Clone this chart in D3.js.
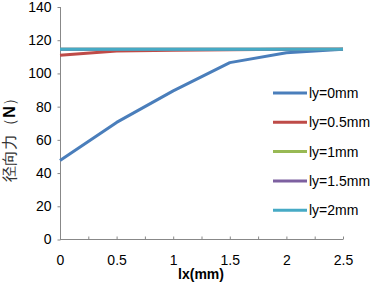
<!DOCTYPE html>
<html>
<head>
<meta charset="utf-8">
<script src="https://cdn.jsdelivr.net/npm/d3@7"></script>
<style>
  body { margin: 0; background: #fff; }
  text { font-family: "Liberation Sans", Arial, sans-serif; }
</style>
</head>
<body>
<div id="chart"></div>
<script>
const lx = [0, 0.5, 1, 1.5, 2, 2.5];
const ly0 = [47.5, 70.5, 89.5, 106.5, 112.5, 114.5];
const ly05 = [111, 113.5, 114, 114.3, 114.5, 114.5];
const ly1 = [114.5, 114.5, 114.5, 114.5, 114.5, 114.5];
const ly15 = [114.5, 114.5, 114.5, 114.5, 114.5, 114.5];
const ly2 = [114.5, 114.5, 114.5, 114.5, 114.5, 114.5];
const seriesNames = ["ly=0mm", "ly=0.5mm", "ly=1mm", "ly=1.5mm", "ly=2mm"];
const yTicks = [0, 20, 40, 60, 80, 100, 120, 140];
const xLabels = [0, 0.5, 1, 1.5, 2, 2.5];

const colors = ["#4a7ebb", "#be4b48", "#98b954", "#7d60a0", "#46aac5"];
const series = [ly0, ly05, ly1, ly15, ly2];

const w = 377, h = 284;
const svg = d3.select("#chart").append("svg")
  .attr("width", w).attr("height", h);

const xScale = d3.scaleLinear().domain([0, 2.5]).range([60, 343]);
const yScale = d3.scaleLinear().domain([0, 140]).range([239.5, 7]);

// y axis
const yAxis = d3.axisLeft(yScale).tickValues(yTicks).tickSize(3).tickPadding(6);
const gy = svg.append("g").attr("transform", "translate(60.5,0)").call(yAxis);
gy.select(".domain").attr("stroke", "#888").attr("d", "M0," + yScale(140) + "V" + yScale(0));
gy.selectAll(".tick line").attr("stroke", "#888");
gy.selectAll(".tick text").attr("font-size", 14).attr("fill", "#000")
  .attr("font-family", "Liberation Sans, Arial, sans-serif");

// x axis: ticks every 0.25 inward, labels at 0.5
const xTickVals = d3.range(0, 2.51, 0.25);
const xAxis = d3.axisBottom(xScale).tickValues(xTickVals).tickSize(-3)
  .tickFormat(d => xLabels.includes(+d.toFixed(2)) ? d3.format("~g")(d) : "");
const gx = svg.append("g").attr("transform", "translate(0,239.5)").call(xAxis);
gx.select(".domain").attr("stroke", "#888").attr("d", "M" + xScale(0) + ",0H" + xScale(2.5));
gx.selectAll(".tick line").attr("stroke", "#888");
gx.selectAll(".tick text").attr("font-size", 14).attr("fill", "#000")
  .attr("y", 16).attr("font-family", "Liberation Sans, Arial, sans-serif");

// lines
const line = d3.line().x((d, i) => xScale(lx[i])).y(d => yScale(d));
series.forEach((s, i) => {
  svg.append("path").datum(s)
    .attr("fill", "none")
    .attr("stroke", colors[i])
    .attr("stroke-width", 3)
    .attr("stroke-linejoin", "round")
    .attr("d", line);
});

// legend
const legend = svg.append("g");
seriesNames.forEach((name, i) => {
  const y = 93 + i * 29.3;
  legend.append("line")
    .attr("x1", 273).attr("x2", 307).attr("y1", y).attr("y2", y)
    .attr("stroke", colors[i]).attr("stroke-width", 3);
  legend.append("text")
    .attr("x", 309).attr("y", y + 5)
    .attr("font-size", 14).attr("fill", "#000")
    .text(name);
});

// axis titles
svg.append("text")
  .attr("x", 201).attr("y", 279)
  .attr("text-anchor", "middle")
  .attr("font-size", 14).attr("font-weight", "bold")
  .text("lx(mm)");

const yTitle = svg.append("text")
  .attr("transform", "translate(15,136) rotate(-90)")
  .attr("text-anchor", "middle")
  .attr("font-size", 16)
  .attr("fill", "#333")
  .attr("font-family", "Noto Sans CJK SC, sans-serif");
yTitle.append("tspan").text("径向力（");
yTitle.append("tspan").attr("font-weight", "bold").attr("fill", "#000").text("N");
yTitle.append("tspan").text("）");
</script>
</body>
</html>
